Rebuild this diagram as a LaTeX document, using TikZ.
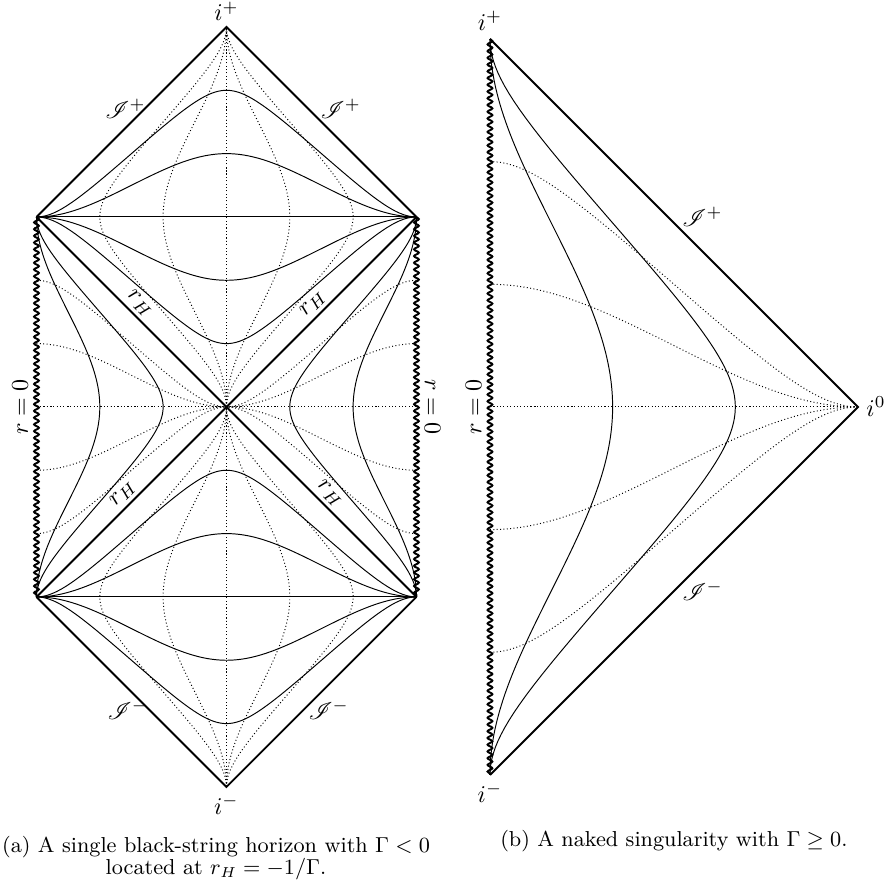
\documentclass[tikz,border=0pt]{standalone}
\usepackage{amsmath}
\usepackage{amssymb}
\usepackage{mathrsfs}
\usepackage{tikz}
\usetikzlibrary{positioning,decorations.pathmorphing}

% compactified null coordinates: (alpha,beta) -> diagram point
\pgfmathdeclarefunction{penx}{2}{\pgfmathparse{(atan((#1)+(#2))-atan((#1)-(#2)))/180}}
\pgfmathdeclarefunction{peny}{2}{\pgfmathparse{(atan((#1)+(#2))+atan((#1)-(#2)))/180}}

\begin{document}
\begin{tikzpicture}[x=79pt, y=79pt,
edge/.style={thick},
sing/.style={thick, decorate, decoration={snake, amplitude=1pt, segment length=2.8pt}},
rline/.style={thin},
tline/.style={thin, densely dotted},
hlbl/.style={above, sloped, inner sep=1.5pt},
capt/.style={font=\small, align=center}
]
\useasboundingbox (-1.192,-2.495) rectangle (3.482,2.142);

% (a) black-string horizon
\coordinate (ip) at (0,2);
\coordinate (im) at (0,-2);
\coordinate (bif) at (0,0);
\coordinate (LT) at (-1,1);
\coordinate (RT) at (1,1);
\coordinate (LB) at (-1,-1);
\coordinate (RB) at (1,-1);

% dynamical regions
\foreach \c in {1,-1}{
  \begin{scope}[shift={(0,\c)}]
    \foreach \k [evaluate=\k as \s using {tan(30*\k)}] in {-2,...,2}{
      \draw[rline] plot[domain=-89.9:89.9, samples=120] ({penx(\s,tan(\x))},{peny(\s,tan(\x))});
      \draw[tline] plot[domain=-89.9:89.9, samples=120] ({penx(tan(\x),\s)},{peny(tan(\x),\s)});
    }
  \end{scope}
}

% static regions
\foreach \c/\m in {-1/1,1/-1}{
  \begin{scope}[shift={(\c,0)}, xscale=\m]
    \foreach \k [evaluate=\k as \s using {tan(30*\k)}] in {-2,...,2}
      \draw[tline] plot[domain=0:89.9, samples=80] ({penx(\s,tan(\x))},{peny(\s,tan(\x))});
    \foreach \a in {30,60}
      \draw[rline] plot[domain=-89.9:89.9, samples=120] ({penx(tan(\x),tan(\a))},{peny(tan(\x),tan(\a))});
  \end{scope}
}

\draw[edge] (LT) -- (ip) -- (RT);
\draw[edge] (LB) -- (im) -- (RB);
\draw[edge] (LT) -- node[hlbl] (rh1) {$r_H$} (bif) -- node[hlbl] (rh4) {$r_H$} (RB);
\draw[edge] (LB) -- node[hlbl] (rh3) {$r_H$} (bif) -- node[hlbl] (rh2) {$r_H$} (RT);
\draw[sing] (LT) -- (LB);
\draw[sing] (RT) -- (RB);

\node[above, yshift=-1pt] (lip) at (ip) {$i^+$};
\node[below] (lim) at (im) {$i^-$};
\path (LT) -- node[above, xshift=-2.5pt, yshift=-2pt] (sp1) {$\mathscr{I}^+$} (ip);
\path (ip) -- node[above, xshift=8pt, yshift=-2pt] (sp2) {$\mathscr{I}^+$} (RT);
\path (LB) -- node[below, xshift=-1.5pt] (sm1) {$\mathscr{I}^-$} (im);
\path (im) -- node[below, xshift=3pt] (sm2) {$\mathscr{I}^-$} (RB);
\node[rotate=90, anchor=south] (r0a) at (-1,0) {$r=0$};
\node[rotate=-90, anchor=south] (r0b) at (1,0) {$r=0$};

% (b) naked singularity
\begin{scope}[shift={(1.387,0)}, scale=1.937]
  \coordinate (jp) at (0,1);
  \coordinate (jm) at (0,-1);
  \coordinate (io) at (1,0);
  \foreach \k [evaluate=\k as \s using {tan(30*\k)}] in {-2,...,2}
    \draw[tline] plot[domain=0:89.9, samples=100] ({penx(\s,tan(\x))},{peny(\s,tan(\x))});
  \foreach \a in {30,60}
    \draw[rline] plot[domain=-89.9:89.9, samples=140] ({penx(tan(\x),tan(\a))},{peny(tan(\x),tan(\a))});
\end{scope}

\draw[edge] (jp) -- (io) -- (jm);
\draw[sing] (jp) -- (jm);

\node[above] (ljp) at (jp) {$i^+$};
\node[below] (ljm) at (jm) {$i^-$};
\node[right] (lio) at (io) {$i^0$};
\path (jp) -- node[right, yshift=2.5pt] (sp3) {$\mathscr{I}^+$} (io);
\path (io) -- node[right] (sm3) {$\mathscr{I}^-$} (jm);
\node[rotate=90, anchor=south] (r0c) at (1.387,0) {$r=0$};

% captions
\node[capt, anchor=north] (capa) at (-0.055,-2.213)
{(a) A single black-string horizon with $\Gamma<0$\\[-1.5pt]located at $r_H=-1/\Gamma$.};
\node[capt] (capb) at (2.355,-2.285)
{(b) A naked singularity with $\Gamma\geq 0$.};
\end{tikzpicture}
\end{document}
